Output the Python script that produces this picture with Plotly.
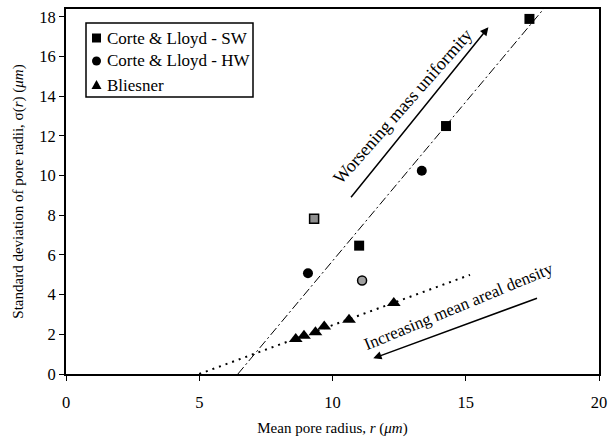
import plotly.graph_objects as go

# Data
sw_x = [17.39, 14.26, 11.0]
sw_y = [17.9, 12.5, 6.47]
sw_hatched_x = [9.31]
sw_hatched_y = [7.82]

hw_x = [13.35, 9.08]
hw_y = [10.25, 5.08]
hw_hatched_x = [11.11]
hw_hatched_y = [4.71]

bl_x = [8.62, 8.93, 9.36, 9.69, 10.62, 12.3]
bl_y = [1.77, 1.93, 2.10, 2.40, 2.73, 3.58]

# trend lines (endpoints)
trend_sw_x = [6.45, 17.92]
trend_sw_y = [0.0, 18.4]
trend_bl_x = [5.0, 15.16]
trend_bl_y = [0.0, 5.0]

x_ticks = [0, 5, 10, 15, 20]
y_ticks = [0, 2, 4, 6, 8, 10, 12, 14, 16, 18]

legend_names = ["Corte & Lloyd - SW", "Corte & Lloyd - HW", "Bliesner"]

FONT = "Liberation Serif, Times New Roman, serif"

# plot-area geometry (pixels)
W, H = 608, 440
ML, MR, MT, MB = 66, 9, 9, 66
PW, PH = W - ML - MR, H - MT - MB


def px(xp):
    return (xp - ML) / PW


def py(yp):
    return (H - MB - yp) / PH


fig = go.Figure()

fig.add_trace(go.Scatter(x=trend_sw_x, y=trend_sw_y, mode="lines",
                         line=dict(color="black", width=1, dash="9px,3px,2px,3px"),
                         showlegend=False, hoverinfo="skip"))
fig.add_trace(go.Scatter(x=trend_bl_x, y=trend_bl_y, mode="lines",
                         line=dict(color="black", width=2, dash="2px,5px"),
                         showlegend=False, hoverinfo="skip"))

fig.add_trace(go.Scatter(x=sw_x, y=sw_y, mode="markers", name=legend_names[0],
                         marker=dict(symbol="square", size=10, color="black"),
                         showlegend=False))
fig.add_trace(go.Scatter(x=hw_x, y=hw_y, mode="markers", name=legend_names[1],
                         marker=dict(symbol="circle", size=10, color="black"),
                         showlegend=False))
fig.add_trace(go.Scatter(x=bl_x, y=bl_y, mode="markers", name=legend_names[2],
                         marker=dict(symbol="triangle-up", size=12, color="black"),
                         showlegend=False))
fig.add_trace(go.Scatter(x=sw_hatched_x, y=sw_hatched_y, mode="markers", showlegend=False,
                         marker=dict(symbol="square", size=9, color="#8f8f8f",
                                     line=dict(color="black", width=1.5))))
fig.add_trace(go.Scatter(x=hw_hatched_x, y=hw_hatched_y, mode="markers", showlegend=False,
                         marker=dict(symbol="circle", size=9, color="#a0a0a0",
                                     line=dict(color="black", width=1.5))))

# arrows
fig.add_annotation(x=15.85, y=17.48, ax=10.65, ay=8.83, xref="x", yref="y",
                   axref="x", ayref="y", text="", showarrow=True,
                   arrowhead=2, arrowsize=1.1, arrowwidth=1.5, arrowcolor="black")
fig.add_annotation(x=11.53, y=0.79, ax=17.73, ay=3.85, xref="x", yref="y",
                   axref="x", ayref="y", text="", showarrow=True,
                   arrowhead=2, arrowsize=1.1, arrowwidth=1.5, arrowcolor="black")

fig.add_annotation(x=12.65, y=13.5, xref="x", yref="y", text="Worsening mass uniformity",
                   showarrow=False, textangle=-48.5,
                   font=dict(family=FONT, size=18, color="black"))
fig.add_annotation(x=14.72, y=3.42, xref="x", yref="y", text="Increasing mean areal density",
                   showarrow=False, textangle=-22.5,
                   font=dict(family=FONT, size=17, color="black"))

# custom legend (box, symbols, labels)
shapes = [dict(type="rect", xref="paper", yref="paper",
               x0=px(86), x1=px(253), y0=py(97), y1=py(23),
               line=dict(color="black", width=1.5), fillcolor="white", layer="above")]
row_y = [38, 61, 85]
sx = 96.5
s = 4.5
shapes.append(dict(type="rect", xref="paper", yref="paper",
                   x0=px(sx - s), x1=px(sx + s), y0=py(row_y[0] + s), y1=py(row_y[0] - s),
                   line=dict(width=0), fillcolor="black", layer="above"))
shapes.append(dict(type="circle", xref="paper", yref="paper",
                   x0=px(sx - s), x1=px(sx + s), y0=py(row_y[1] + s), y1=py(row_y[1] - s),
                   line=dict(width=0), fillcolor="black", layer="above"))
ty = row_y[2]
shapes.append(dict(type="path", xref="paper", yref="paper",
                   path=f"M {px(sx - 5)} {py(ty + 4)} L {px(sx + 5)} {py(ty + 4)} L {px(sx)} {py(ty - 5)} Z",
                   line=dict(width=0), fillcolor="black", layer="above"))
for name, ry in zip(legend_names, row_y):
    fig.add_annotation(x=px(105), y=py(ry), xref="paper", yref="paper", text=name,
                       showarrow=False, xanchor="left", yanchor="middle",
                       font=dict(family=FONT, size=17, color="black"))

axis_common = dict(showline=True, linecolor="black", linewidth=2, mirror=True,
                   ticks="outside", ticklen=5, tickcolor="black", tickwidth=1,
                   showgrid=False, zeroline=False, automargin=False,
                   tickfont=dict(family=FONT, size=16.5, color="black"))

fig.update_xaxes(range=[0, 20], tickvals=x_ticks, ticklabelstandoff=7,
                 title=dict(text="Mean pore radius, <i>r</i> (<i>μm</i>)",
                            font=dict(family=FONT, size=15, color="black"), standoff=12),
                 **axis_common)
fig.update_yaxes(range=[0, 18.4], tickvals=y_ticks,
                 title=dict(text="Standard deviation of pore radii, σ(<i>r</i>) (<i>μm</i>)",
                            font=dict(family=FONT, size=15, color="black"), standoff=12),
                 **axis_common)

fig.update_layout(
    width=W, height=H,
    margin=dict(l=ML, r=MR, t=MT, b=MB),
    paper_bgcolor="white", plot_bgcolor="white",
    font=dict(family=FONT, size=15, color="black"),
    showlegend=False,
    shapes=shapes,
)

fig.write_html("out.html", config={"displayModeBar": False},
               post_script="document.body.style.margin='0';document.body.style.overflow='hidden';")
